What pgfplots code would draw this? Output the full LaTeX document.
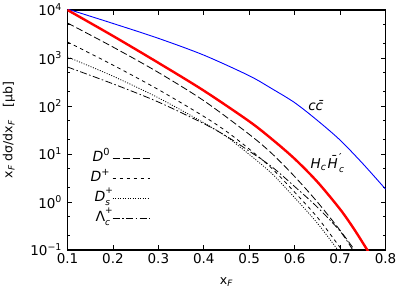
\documentclass[border=0pt]{standalone}
\usepackage{fontspec}
\setmainfont{DejaVu Sans}
\usepackage{pgfplots}
\pgfplotsset{compat=1.18}
\newcommand\supsub[2]{\rlap{\raisebox{0.95ex}{\fontsize{9}{9}\selectfont #1}}\raisebox{-0.6ex}{\fontsize{9}{9}\selectfont #2}}
\newcommand\supsubH[2]{\rlap{\raisebox{0.9ex}{\fontsize{11}{11}\selectfont #1}}\raisebox{-0.6ex}{\fontsize{9}{9}\selectfont #2}}
\begin{document}
\begin{tikzpicture}
\path[use as bounding box] (-67.5pt,-40pt) rectangle (331.5pt,250pt);
\begin{axis}[
  at={(0pt,0pt)}, anchor=south west,
  scale only axis, width=318pt, height=240pt,
  xmin=0.1, xmax=0.8, ymode=log, ymin=0.1, ymax=10000,
  xtick={0.1,0.2,0.3,0.4,0.5,0.6,0.7,0.8},
  xticklabels={0.1,0.2,0.3,0.4,0.5,0.6,0.7,0.8},
  ytick={0.1,1,10,100,1000,10000},
  yticklabels={10\textsuperscript{−1},10\textsuperscript{0},10\textsuperscript{1},10\textsuperscript{2},10\textsuperscript{3},10\textsuperscript{4}},
  minor ytick={0.2,0.5,2,5,20,50,200,500,2000,5000},
  tick align=inside, major tick length=5pt, minor tick length=3pt,
  axis line style={line width=1.2pt},
  every tick/.style={black, line width=0.8pt},
  tick label style={font=\fontsize{13.5}{15}\selectfont},
  yticklabel style={xshift=-2pt},
  xlabel={x\textsubscript{\textit{F}}},
  xlabel style={font=\fontsize{12.5}{14}\selectfont, at={(axis description cs:0.5,-0.135)}, anchor=center},
  ylabel={x\textsubscript{\textit{F}} dσ/dx\textsubscript{\textit{F}}\enspace\enspace[μb]},
  ylabel style={font=\fontsize{12.5}{14}\selectfont, at={(axis description cs:-0.184,0.5)}, anchor=center, rotate=0},
  legend plot pos=right, legend cell align=right,
  legend style={draw=none, fill=none, at={(axis description cs:0.066,0.425)}, anchor=north west,
    font=\fontsize{14}{16}\selectfont, inner sep=0pt,
    nodes={text height=11pt, text depth=5pt, inner sep=2pt}},
  legend image code/.code={\draw[#1] (2pt,0pt) -- (39pt,0pt);},
]
\addplot[blue, line width=0.9pt, smooth, forget plot] coordinates {
(0.1,10470)(0.2,5250)(0.3,2570)(0.4,1148)(0.5,427)(0.55,229)(0.6,117.5)(0.65,50.1)(0.7,19.5)(0.75,6.3)(0.8,1.86)};
\addplot[red, line width=2.4pt, smooth, forget plot] coordinates {
(0.1,10000)(0.2,2884)(0.3,794)(0.4,209)(0.5,47.9)(0.55,20.4)(0.6,7.94)(0.65,2.63)(0.7,0.708)(0.73,0.28)(0.76,0.1)(0.765,0.085)};
\addplot[black, line width=0.8pt, smooth, dash pattern=on 7pt off 3pt] coordinates {
(0.1,5360)(0.2,1695)(0.3,500)(0.4,129)(0.5,25.7)(0.55,10.2)(0.6,3.39)(0.65,1.0)(0.7,0.257)(0.732,0.1)};
\addlegendentry{\textit{D}\textsuperscript{0}}
\addplot[black, line width=0.8pt, smooth, dash pattern=on 3.5pt off 3.5pt] coordinates {
(0.1,2154)(0.2,713)(0.3,220)(0.4,60.7)(0.45,29.5)(0.5,12.7)(0.55,5.0)(0.6,1.60)(0.65,0.48)(0.7,0.113)(0.705,0.1)};
\addlegendentry{\textit{D}\textsuperscript{+}}
\addplot[black, line width=0.8pt, smooth, dash pattern=on 1pt off 1.5pt] coordinates {
(0.1,1050)(0.2,418)(0.3,148)(0.4,44.8)(0.45,22.9)(0.5,9.8)(0.55,3.9)(0.6,1.23)(0.65,0.363)(0.695,0.1)};
\addlegendentry{\textit{D}\supsub{+}{\textit{s}}}
\addplot[black, line width=0.8pt, smooth, dash pattern=on 7pt off 2.5pt on 1.5pt off 2.5pt] coordinates {
(0.1,649)(0.2,290)(0.3,121)(0.4,42.9)(0.45,23.4)(0.5,11.5)(0.55,5.4)(0.6,2.10)(0.65,0.78)(0.7,0.247)(0.728,0.1)};
\addlegendentry{Λ\supsub{+}{\textit{c}}}
\node[font=\fontsize{13.5}{15}\selectfont] at (axis cs:0.647,100) {\textit{c\={c}}};
\node[font=\fontsize{13.5}{15}\selectfont] at (axis cs:0.672,6.5) {\textit{H}\textsubscript{\textit{c}}\kern1.2pt\textit{\={H}}\kern0.8pt\supsubH{′}{\textit{c}}};
\end{axis}
\end{tikzpicture}
\end{document}
